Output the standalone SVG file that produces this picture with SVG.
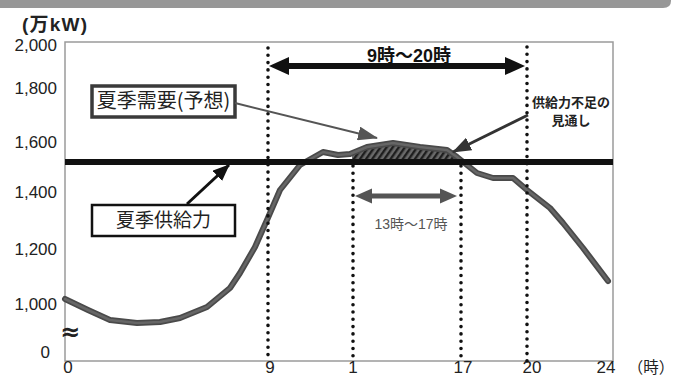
<svg xmlns="http://www.w3.org/2000/svg" width="673" height="378" viewBox="0 0 673 378">
<style>
.ax{font-family:"Liberation Sans","Noto Sans CJK JP",sans-serif;font-size:17px;fill:#222}
.jp{font-family:"Noto Sans CJK JP",sans-serif;fill:#222}
.dot{fill:none;stroke:#111;stroke-width:3.6;stroke-linecap:round;stroke-dasharray:0 7.3}
.box{fill:#fff}
</style>
<defs>
<pattern id="hatch" width="5" height="5" patternUnits="userSpaceOnUse" patternTransform="rotate(35)">
<rect width="5" height="5" fill="#6a6a6a"/>
<rect width="2.4" height="5" fill="#1e1e1e"/>
</pattern>
<marker id="hGray" markerUnits="userSpaceOnUse" markerWidth="20" markerHeight="14" viewBox="0 0 20 14" refX="19" refY="7" orient="auto">
<path d="M0,0 L20,7 L0,14 Z" fill="#555"/>
</marker>
<marker id="hBlack" markerUnits="userSpaceOnUse" markerWidth="17" markerHeight="14" viewBox="0 0 17 14" refX="16" refY="7" orient="auto">
<path d="M0,0 L17,7 L0,14 Z" fill="#111"/>
</marker>
<marker id="hDark" markerUnits="userSpaceOnUse" markerWidth="19" markerHeight="14" viewBox="0 0 19 14" refX="18" refY="7" orient="auto">
<path d="M0,0 L19,7 L0,14 Z" fill="#333"/>
</marker>
</defs>
<rect width="673" height="378" fill="#fff"/>
<path d="M0,0 H671 V1 Q671,8 663,8 H0 Z" fill="#979797"/>

<g id="axes">
<rect x="65" y="42" width="548" height="319" fill="none" stroke="#9a9a9a" stroke-width="1.5"/>
<text x="22" y="31" font-family="Liberation Sans,'Noto Sans CJK JP',sans-serif" font-size="19" font-weight="bold" letter-spacing="1.2" fill="#222">(万kW)</text>
<g class="ax" text-anchor="end">
<text x="57" y="51">2,000</text>
<text x="57" y="94">1,800</text>
<text x="57" y="148">1,600</text>
<text x="57" y="198">1,400</text>
<text x="57" y="255">1,200</text>
<text x="57" y="310">1,000</text>
<text x="50" y="358">0</text>
</g>
<text x="70" y="340" text-anchor="middle" font-family="DejaVu Sans,sans-serif" font-size="24" font-weight="bold" fill="#222">≈</text>
<g class="ax" font-size="17" text-anchor="middle">
<text x="68" y="373">0</text>
<text x="270" y="373">9</text>
<text x="353" y="373">1</text>
<text x="463" y="373">17</text>
<text x="532" y="373">20</text>
<text x="606" y="373">24</text>
</g>
<text x="651" y="373" text-anchor="middle" class="jp" font-size="15.5">（時）</text>
</g>

<g id="shortfall-area">
<polygon points="352,160 352,154 367,147 393,143 420,147 447,150 457,157 461,160" fill="url(#hatch)"/>
</g>

<g id="demand-curve">
<polyline points="65,299 88,310 110,320 137,323 160,322 180,318 207,307 230,288 240,273 255,247 267,220 280,190 300,165 323,152 338,155 350,154 367,147 393,143 420,147 447,150 457,157 477,173 493,178 513,178 527,190 550,208 563,223 583,248 608,281" fill="none" stroke="#4a4a4a" stroke-width="6" stroke-linejoin="round" stroke-linecap="round"/>
<polyline points="65,299 88,310 110,320 137,323 160,322 180,318 207,307 230,288 240,273 255,247 267,220 280,190 300,165 323,152 338,155 350,154 367,147 393,143 420,147 447,150 457,157 477,173 493,178 513,178 527,190 550,208 563,223 583,248 608,281" fill="none" stroke="#666" stroke-width="2.5" stroke-linejoin="round" stroke-linecap="round"/>
</g>

<g id="supply-line">
<line x1="65" y1="162" x2="613" y2="162" stroke="#111" stroke-width="6"/>
</g>

<g id="time-lines">
<line class="dot" x1="268" y1="48" x2="268" y2="361"/>
<line class="dot" x1="353" y1="166" x2="353" y2="361"/>
<line class="dot" x1="461" y1="166" x2="461" y2="361"/>
<line class="dot" x1="527" y1="47" x2="527" y2="361"/>
</g>

<g id="span-9-20">
<line x1="286" y1="66" x2="508" y2="66" stroke="#111" stroke-width="6"/>
<polygon points="269,66 289,57 289,75" fill="#111"/>
<polygon points="525,66 505,57 505,75" fill="#111"/>
<text x="409" y="62" text-anchor="middle" font-family="Liberation Sans,'Noto Sans CJK JP',sans-serif" font-size="18" font-weight="bold" fill="#111">9時～20時</text>
</g>

<g id="span-13-17">
<line x1="370" y1="196" x2="442" y2="196" stroke="#555" stroke-width="5"/>
<polygon points="355,196 372,188.5 372,203.5" fill="#555"/>
<polygon points="457,196 440,188.5 440,203.5" fill="#555"/>
<text x="411" y="229" text-anchor="middle" font-family="Liberation Sans,'Noto Sans CJK JP',sans-serif" font-size="14" fill="#555">13時～17時</text>
</g>

<g id="label-demand">
<rect class="box" x="92" y="86" width="143" height="31" stroke="#3a3a3a" stroke-width="3.5"/>
<text x="163.5" y="108" text-anchor="middle" class="jp" font-size="20">夏季需要(予想)</text>
</g>

<g id="label-supply">
<rect class="box" x="92" y="205" width="143" height="31" stroke="#111" stroke-width="2.5"/>
<text x="163.5" y="227" text-anchor="middle" class="jp" font-size="19">夏季供給力</text>
</g>

<g id="label-shortfall">
<text x="571" y="107" text-anchor="middle" class="jp" font-size="13" font-weight="bold" fill="#333">供給力不足の</text>
<text x="571" y="125" text-anchor="middle" class="jp" font-size="13" font-weight="bold" fill="#333">見通し</text>
</g>

<g id="connectors">
<line x1="235" y1="103" x2="377" y2="138" stroke="#555" stroke-width="2" marker-end="url(#hGray)"/>
<line x1="187" y1="204" x2="229" y2="165" stroke="#111" stroke-width="3" marker-end="url(#hBlack)"/>
<line x1="528" y1="115" x2="453" y2="152" stroke="#333" stroke-width="3" marker-end="url(#hDark)"/>
</g>
</svg>
